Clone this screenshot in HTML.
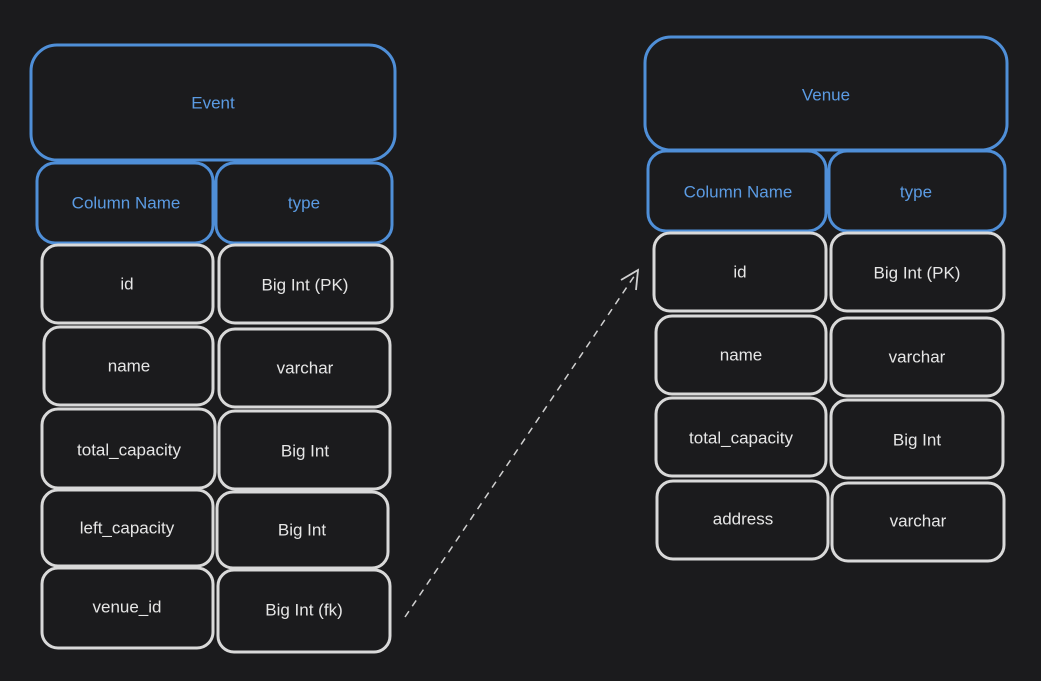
<!DOCTYPE html>
<html><head><meta charset="utf-8"><style>
html,body{margin:0;padding:0;background:#1b1b1d;}
svg{display:block}
text{font-family:"Liberation Sans",sans-serif;font-size:17px;text-anchor:middle;dominant-baseline:central;}
.w rect{fill:none;stroke:#d9d9d9;stroke-width:3}
.b rect{fill:none;stroke:#4f8fd8;stroke-width:3}
.w text{fill:#e6e6e6}
.b text{fill:#5b9be3}
</style></head><body>
<svg width="1041" height="681" viewBox="0 0 1041 681">
<rect width="1041" height="681" fill="#1b1b1d"/>
<g class="b">
<rect x="31" y="45" width="364" height="115" rx="26"/><text x="213" y="103">Event</text>
<rect x="37" y="163" width="176" height="80" rx="18"/><text x="126" y="203">Column Name</text>
<rect x="216" y="163" width="176" height="80" rx="18"/><text x="304" y="203">type</text>
<rect x="645" y="37" width="362" height="113" rx="26"/><text x="826" y="95">Venue</text>
<rect x="648" y="151" width="178" height="80" rx="18"/><text x="738" y="192">Column Name</text>
<rect x="829" y="151" width="176" height="80" rx="18"/><text x="916" y="192">type</text>
</g>
<g class="w">
<rect x="42" y="245" width="171" height="78" rx="16"/><text x="127" y="284">id</text>
<rect x="219" y="245" width="173" height="78" rx="16"/><text x="305" y="285">Big Int (PK)</text>
<rect x="44" y="327" width="169" height="78" rx="16"/><text x="129" y="366">name</text>
<rect x="219" y="329" width="171" height="78" rx="16"/><text x="305" y="368">varchar</text>
<rect x="42" y="409" width="173" height="79" rx="16"/><text x="129" y="450">total_capacity</text>
<rect x="219" y="411" width="171" height="78" rx="16"/><text x="305" y="451">Big Int</text>
<rect x="42" y="490" width="171" height="76" rx="16"/><text x="127" y="528">left_capacity</text>
<rect x="217" y="492" width="171" height="76" rx="16"/><text x="302" y="530">Big Int</text>
<rect x="42" y="568" width="171" height="80" rx="16"/><text x="127" y="607">venue_id</text>
<rect x="218" y="570" width="172" height="82" rx="16"/><text x="304" y="610">Big Int (fk)</text>

<rect x="654" y="233" width="172" height="78" rx="16"/><text x="740" y="272">id</text>
<rect x="831" y="233" width="173" height="78" rx="16"/><text x="917" y="273">Big Int (PK)</text>
<rect x="656" y="316" width="170" height="78" rx="16"/><text x="741" y="355">name</text>
<rect x="831" y="318" width="172" height="78" rx="16"/><text x="917" y="357">varchar</text>
<rect x="656" y="398" width="170" height="78" rx="16"/><text x="741" y="438">total_capacity</text>
<rect x="831" y="400" width="172" height="78" rx="16"/><text x="917" y="440">Big Int</text>
<rect x="657" y="481" width="171" height="78" rx="16"/><text x="743" y="519">address</text>
<rect x="832" y="483" width="172" height="78" rx="16"/><text x="918" y="521">varchar</text>
</g>
<line x1="405" y1="617" x2="637" y2="272" stroke="#d0d0d0" stroke-width="1.5" stroke-dasharray="7 6"/>
<path d="M621 280 L638 270 L636 290" fill="none" stroke="#d0d0d0" stroke-width="1.8"/>
</svg>
</body></html>
